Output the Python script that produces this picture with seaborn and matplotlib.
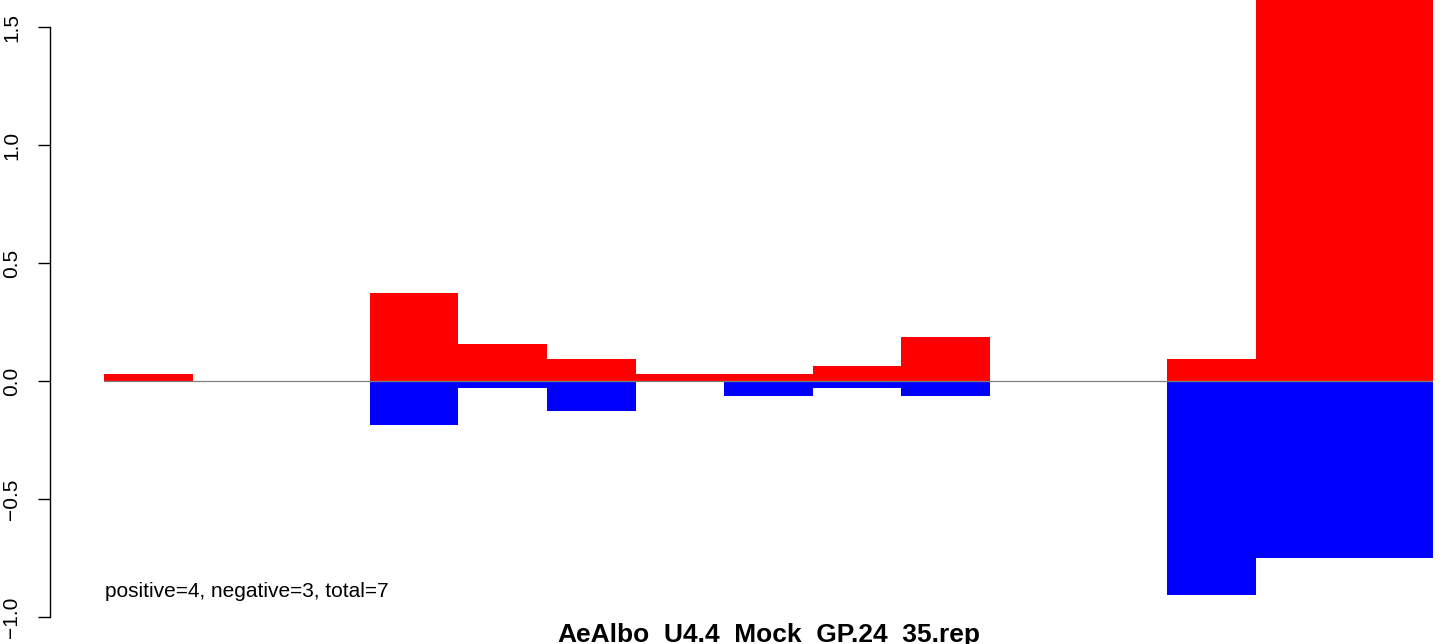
import numpy as np
import pandas as pd
import matplotlib
matplotlib.use("Agg")
import matplotlib.pyplot as plt
import seaborn as sns

sns.set_style("white")
plt.rcParams['font.family'] = ['Liberation Sans', 'DejaVu Sans']
plt.rcParams['text.color'] = 'black'
plt.rcParams['ytick.color'] = 'black'

# bar values (one bin per bar, 15 bins)
positives = [0.03125, 0, 0, 0.375, 0.15625, 0.09375, 0.03125, 0.03125, 0.0625, 0.1875,
             0, 0, 0.09375, 2.0, 2.0]
negatives = [0, 0, 0, -0.1875, -0.03125, -0.125, 0, -0.0625, -0.03125, -0.0625,
             0, 0, -0.90625, -0.75, -0.75]
yticks = [-1.0, -0.5, 0.0, 0.5, 1.0, 1.5]
note = "positive=4, negative=3, total=7"
title = "AeAlbo_U4.4_Mock_GP.24_35.rep"

df = pd.DataFrame({'bin': np.arange(len(positives)), 'pos': positives, 'neg': negatives})

W, H = 1449, 644
fig = plt.figure(figsize=(W / 100, H / 100), dpi=100)
# plot region in pixels: x 104..1433, y 0..627 (top of figure)
ax = fig.add_axes([104 / W, (H - 627) / H, (1433 - 104) / W, 627 / H])

sns.barplot(data=df, x='bin', y='pos', color='#ff0000', saturation=1, width=1.0,
            linewidth=0, ax=ax, errorbar=None)
sns.barplot(data=df, x='bin', y='neg', color='#0000ff', saturation=1, width=1.0,
            linewidth=0, ax=ax, errorbar=None)

ax.axhline(0, color='#808080', lw=0.9, zorder=5)

px = 236.0  # pixels per unit
ax.set_xlim(-0.5, len(positives) - 0.5)
ax.set_ylim(-1.0 - 10 / px, 1.5 + 27 / px)

for s in ['top', 'right', 'bottom']:
    ax.spines[s].set_visible(False)
ax.spines['left'].set_position(('outward', 39))
ax.spines['left'].set_bounds(-1.0, 1.5)
ax.spines['left'].set_linewidth(1.0)
ax.spines['left'].set_color('black')

ax.set_xticks([])
ax.set_xlabel('')
ax.set_ylabel('')
ax.set_yticks(yticks)
ax.set_yticklabels([f"{v:.1f}".replace('-', '\u2212') for v in yticks],
                   rotation=90, va='center')
ax.tick_params(axis='y', direction='out', length=8.6, width=1.0, pad=12,
               labelsize=15, left=True, color='black', labelcolor='black')

ax.text(0 - 0.49, -0.915, note, fontsize=15, ha='left', va='baseline', color='black')

fig.text(768.5 / W, (H - 642) / H, title, fontsize=19, fontweight='bold',
         ha='center', va='baseline', color='black')

fig.savefig("out.png", dpi=100)
